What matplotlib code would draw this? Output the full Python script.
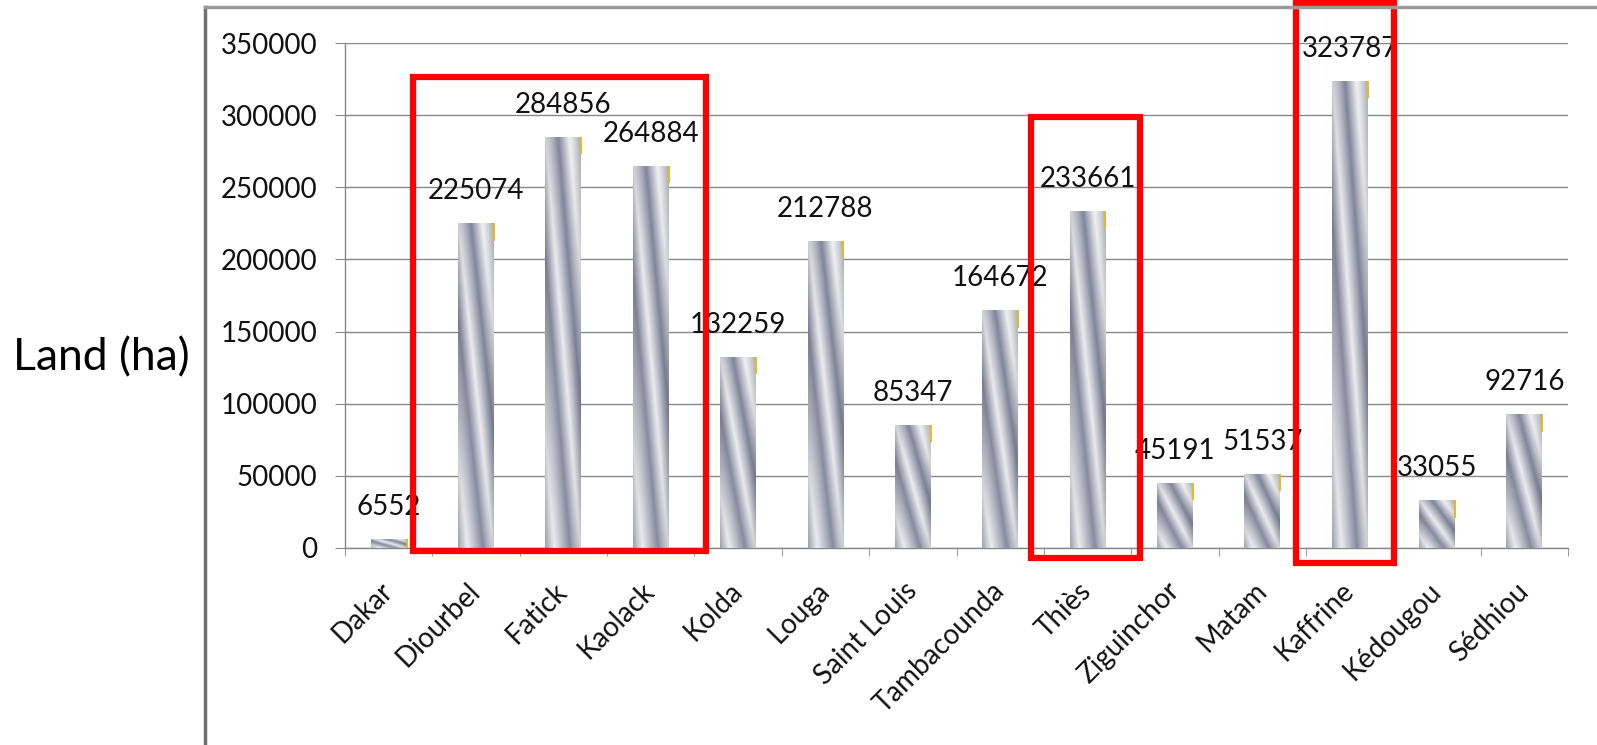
import numpy as np
import matplotlib.pyplot as plt
from matplotlib.colors import LinearSegmentedColormap
from matplotlib.patches import Rectangle
from matplotlib.lines import Line2D

plt.rcParams['font.family'] = ['Lato', 'DejaVu Sans']

# Regions and cultivated land area (ha)
regions = ['Dakar', 'Diourbel', 'Fatick', 'Kaolack', 'Kolda', 'Louga', 'Saint Louis',
           'Tambacounda', 'Thiès', 'Ziguinchor', 'Matam', 'Kaffrine', 'Kédougou', 'Sédhiou']
land_ha = [6552, 225074, 284856, 264884, 132259, 212788, 85347,
           164672, 233661, 45191, 51537, 323787, 33055, 92716]
y_ticks = [0, 50000, 100000, 150000, 200000, 250000, 300000, 350000]

# highlight boxes: (x0, x1, y0, y1) in axis units
boxes = [(0.284, 3.636, -2100, 326100),
         (7.35, 8.60, -6900, 298700),
         (10.39, 11.51, -10400, 377700)]

# metallic fill used inside every bar
metal = LinearSegmentedColormap.from_list('metal', [
    (0.00, '#b4b8c4'), (0.13, '#eeeff2'), (0.35, '#878b9f'),
    (0.50, '#ececf0'), (0.68, '#80859a'), (0.84, '#f2f2f4'), (1.00, '#bfc2cc')])


def metal_texture(nx=48, ny=240):
    u = np.linspace(0, 1, nx)[None, :]
    v = np.linspace(0, 1, ny)[:, None]
    t = (u - v + 1) / 2
    rgb = metal(t)[..., :3]
    # darker rims so the bar reads like a cylinder
    shade = 1 - 0.12 * np.abs(2 * u - 1) ** 3
    return np.clip(rgb * shade[..., None], 0, 1)


fig = plt.figure(figsize=(15.97, 7.45), dpi=100)
ax = fig.add_axes([345 / 1597, 1 - 548 / 745, (1568 - 345) / 1597, (548 - 43) / 745])

x = np.arange(len(regions))
width = 0.41
bars = ax.bar(x, land_ha, width, color='none', edgecolor='none', zorder=3)

tex = metal_texture()
for i, (rect, val) in enumerate(zip(bars, land_ha)):
    x0 = rect.get_x()
    im = ax.imshow(tex, extent=(x0, x0 + width, 0, val), aspect='auto',
                   origin='upper', zorder=3, interpolation='bilinear')
    im.set_clip_path(rect)
    # thin gold edge at the top right of the bar
    ax.plot([x0 + width, x0 + width], [max(val - 12000, 0), val],
            color='#e9b921', lw=1.4, zorder=4, solid_capstyle='butt')
    ax.annotate(f'{val}', (i, val), xytext=(0, 23), textcoords='offset points',
                ha='center', va='center', fontsize=20, color='#111111', zorder=5)

ax.set_xlim(-0.5, len(regions) - 0.5)
ax.set_ylim(0, 350000)
ax.set_yticks(y_ticks)
ax.set_yticklabels([str(t) for t in y_ticks])
ax.grid(axis='y', color='#888888', lw=1, zorder=0)
ax.set_axisbelow(True)

ax.set_xticks(x)
ax.set_xticklabels(regions, rotation=45, ha='right', va='center',
                   rotation_mode='anchor')
ax.set_xticks(np.arange(len(regions) + 1) - 0.5, minor=True)
ax.tick_params(axis='x', which='major', length=0, pad=28, labelsize=20,
               labelcolor='#111111')
ax.tick_params(axis='x', which='minor', length=6, color='#888888')
ax.tick_params(axis='y', length=7, pad=13, labelsize=20, color='#888888',
               labelcolor='#111111')

for side in ['top', 'right']:
    ax.spines[side].set_visible(False)
for side in ['left', 'bottom']:
    ax.spines[side].set_color('#888888')
    ax.spines[side].set_linewidth(1)

# red highlight boxes
for bx0, bx1, by0, by1 in boxes:
    ax.add_patch(Rectangle((bx0, by0), bx1 - bx0, by1 - by0, fill=False,
                           edgecolor='#ff0000', lw=4.5, clip_on=False, zorder=6))

# chart frame
fx = 205 / 1597
fy = 1 - 7 / 745
fig.add_artist(Line2D([fx, fx], [0, fy], color='#6f6f6f', lw=2.5))
fig.add_artist(Line2D([fx, 1], [fy, fy], color='#9a9a9a', lw=2.5))

fig.text(13 / 1597, 1 - 358 / 745, 'Land (ha)', fontsize=32, ha='left',
         va='center', color='#000000')

fig.savefig('out.png', dpi=100)
